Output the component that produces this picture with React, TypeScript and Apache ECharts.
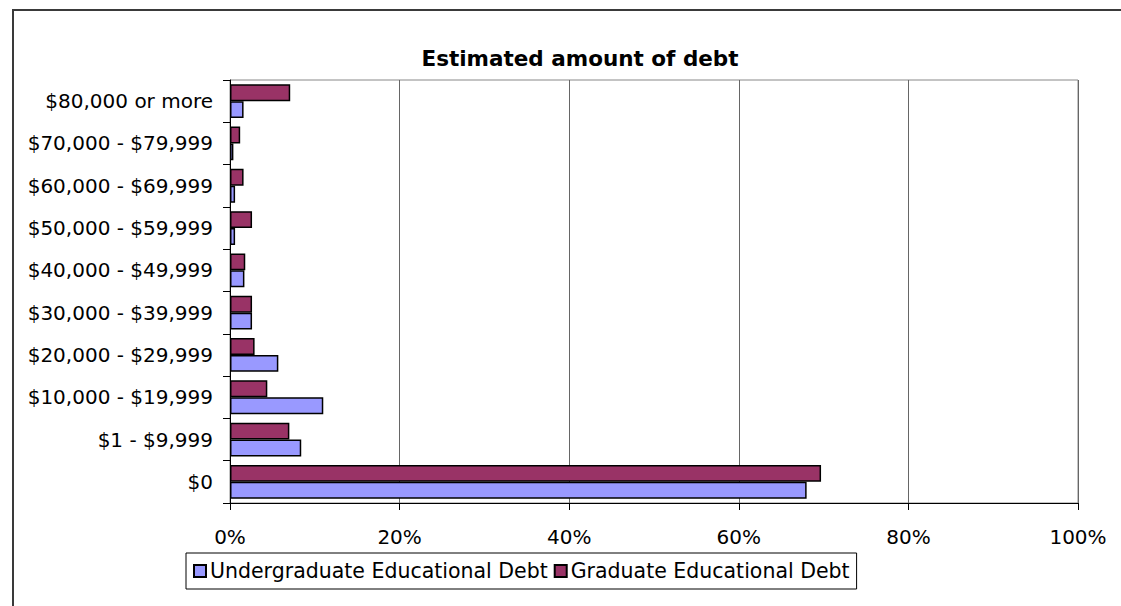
import React, { useEffect, useRef } from "react";
import * as echarts from "echarts";

const categories = [
  "$0",
  "$1 - $9,999",
  "$10,000 - $19,999",
  "$20,000 - $29,999",
  "$30,000 - $39,999",
  "$40,000 - $49,999",
  "$50,000 - $59,999",
  "$60,000 - $69,999",
  "$70,000 - $79,999",
  "$80,000 or more",
];
const undergraduate = [68.0, 8.4, 11.0, 5.7, 2.6, 1.7, 0.6, 0.6, 0.4, 1.6];
const graduate = [69.7, 7.0, 4.4, 2.9, 2.6, 1.8, 2.6, 1.6, 1.2, 7.1];
const seriesNames = ["Undergraduate Educational Debt", "Graduate Educational Debt"];
const titleText = "Estimated amount of debt";

const FONT = "DejaVu Sans";

export default function App() {
  const ref = useRef<HTMLDivElement>(null);
  useEffect(() => {
    if (!ref.current) return;
    const chart = echarts.init(ref.current, null, { renderer: "svg" });
    chart.setOption({
      animation: false,
      backgroundColor: "#ffffff",
      textStyle: { fontFamily: FONT },
      title: {
        text: titleText,
        left: 575,
        top: 42,
        textAlign: "center",
        textStyle: { fontFamily: FONT, fontWeight: "bold", fontSize: 21.5, color: "#000" },
      },
      graphic: [
        {
          type: "rect",
          shape: { x: 13, y: 10, width: 1200, height: 700 },
          style: { fill: "none", stroke: "#3a3a3a", lineWidth: 2 },
          silent: true,
        },
      ],
      legend: {
        data: seriesNames,
        left: 186,
        top: 553,
        orient: "horizontal",
        itemWidth: 12,
        itemHeight: 12,
        itemGap: 6,
        padding: [7, 7, 7, 7],
        borderColor: "#000",
        borderWidth: 1,
        icon: "rect",
        textStyle: { fontFamily: FONT, fontSize: 20.5, color: "#000", lineHeight: 22, padding: [0, 0, 0, -1] },
      },
      grid: {
        left: 230,
        right: 43,
        top: 80,
        bottom: 103,
        show: true,
        borderColor: "#888",
        borderWidth: 1,
        containLabel: false,
      },
      xAxis: {
        type: "value",
        min: 0,
        max: 100,
        interval: 20,
        axisLine: { show: true, lineStyle: { color: "#000", width: 1 } },
        axisTick: { show: true, length: 7, lineStyle: { color: "#000" } },
        splitLine: { show: true, lineStyle: { color: "#666", width: 1 } },
        axisLabel: {
          formatter: "{value}%",
          fontFamily: FONT,
          fontSize: 20,
          color: "#000",
          margin: 24,
        },
      },
      yAxis: {
        type: "category",
        data: categories,
        axisLine: { show: true, lineStyle: { color: "#000", width: 1 } },
        axisTick: { show: true, length: 7, inside: false, lineStyle: { color: "#000" } },
        axisLabel: { fontFamily: FONT, fontSize: 20, color: "#000", margin: 17 },
      },
      series: [
        {
          name: seriesNames[1],
          type: "bar",
          data: graduate,
          barGap: "0%",
          barCategoryGap: "20%",
          itemStyle: { color: "#993366", borderColor: "#000", borderWidth: 1.5 },
        },
        {
          name: seriesNames[0],
          type: "bar",
          data: undergraduate,
          barGap: "0%",
          barCategoryGap: "20%",
          itemStyle: { color: "#9999FF", borderColor: "#000", borderWidth: 1.5 },
        },
      ],
    });
    return () => chart.dispose();
  }, []);
  return (
    <div
      ref={ref}
      style={{ position: "fixed", left: 0, top: 0, width: 1121, height: 606, background: "#fff" }}
    />
  );
}
